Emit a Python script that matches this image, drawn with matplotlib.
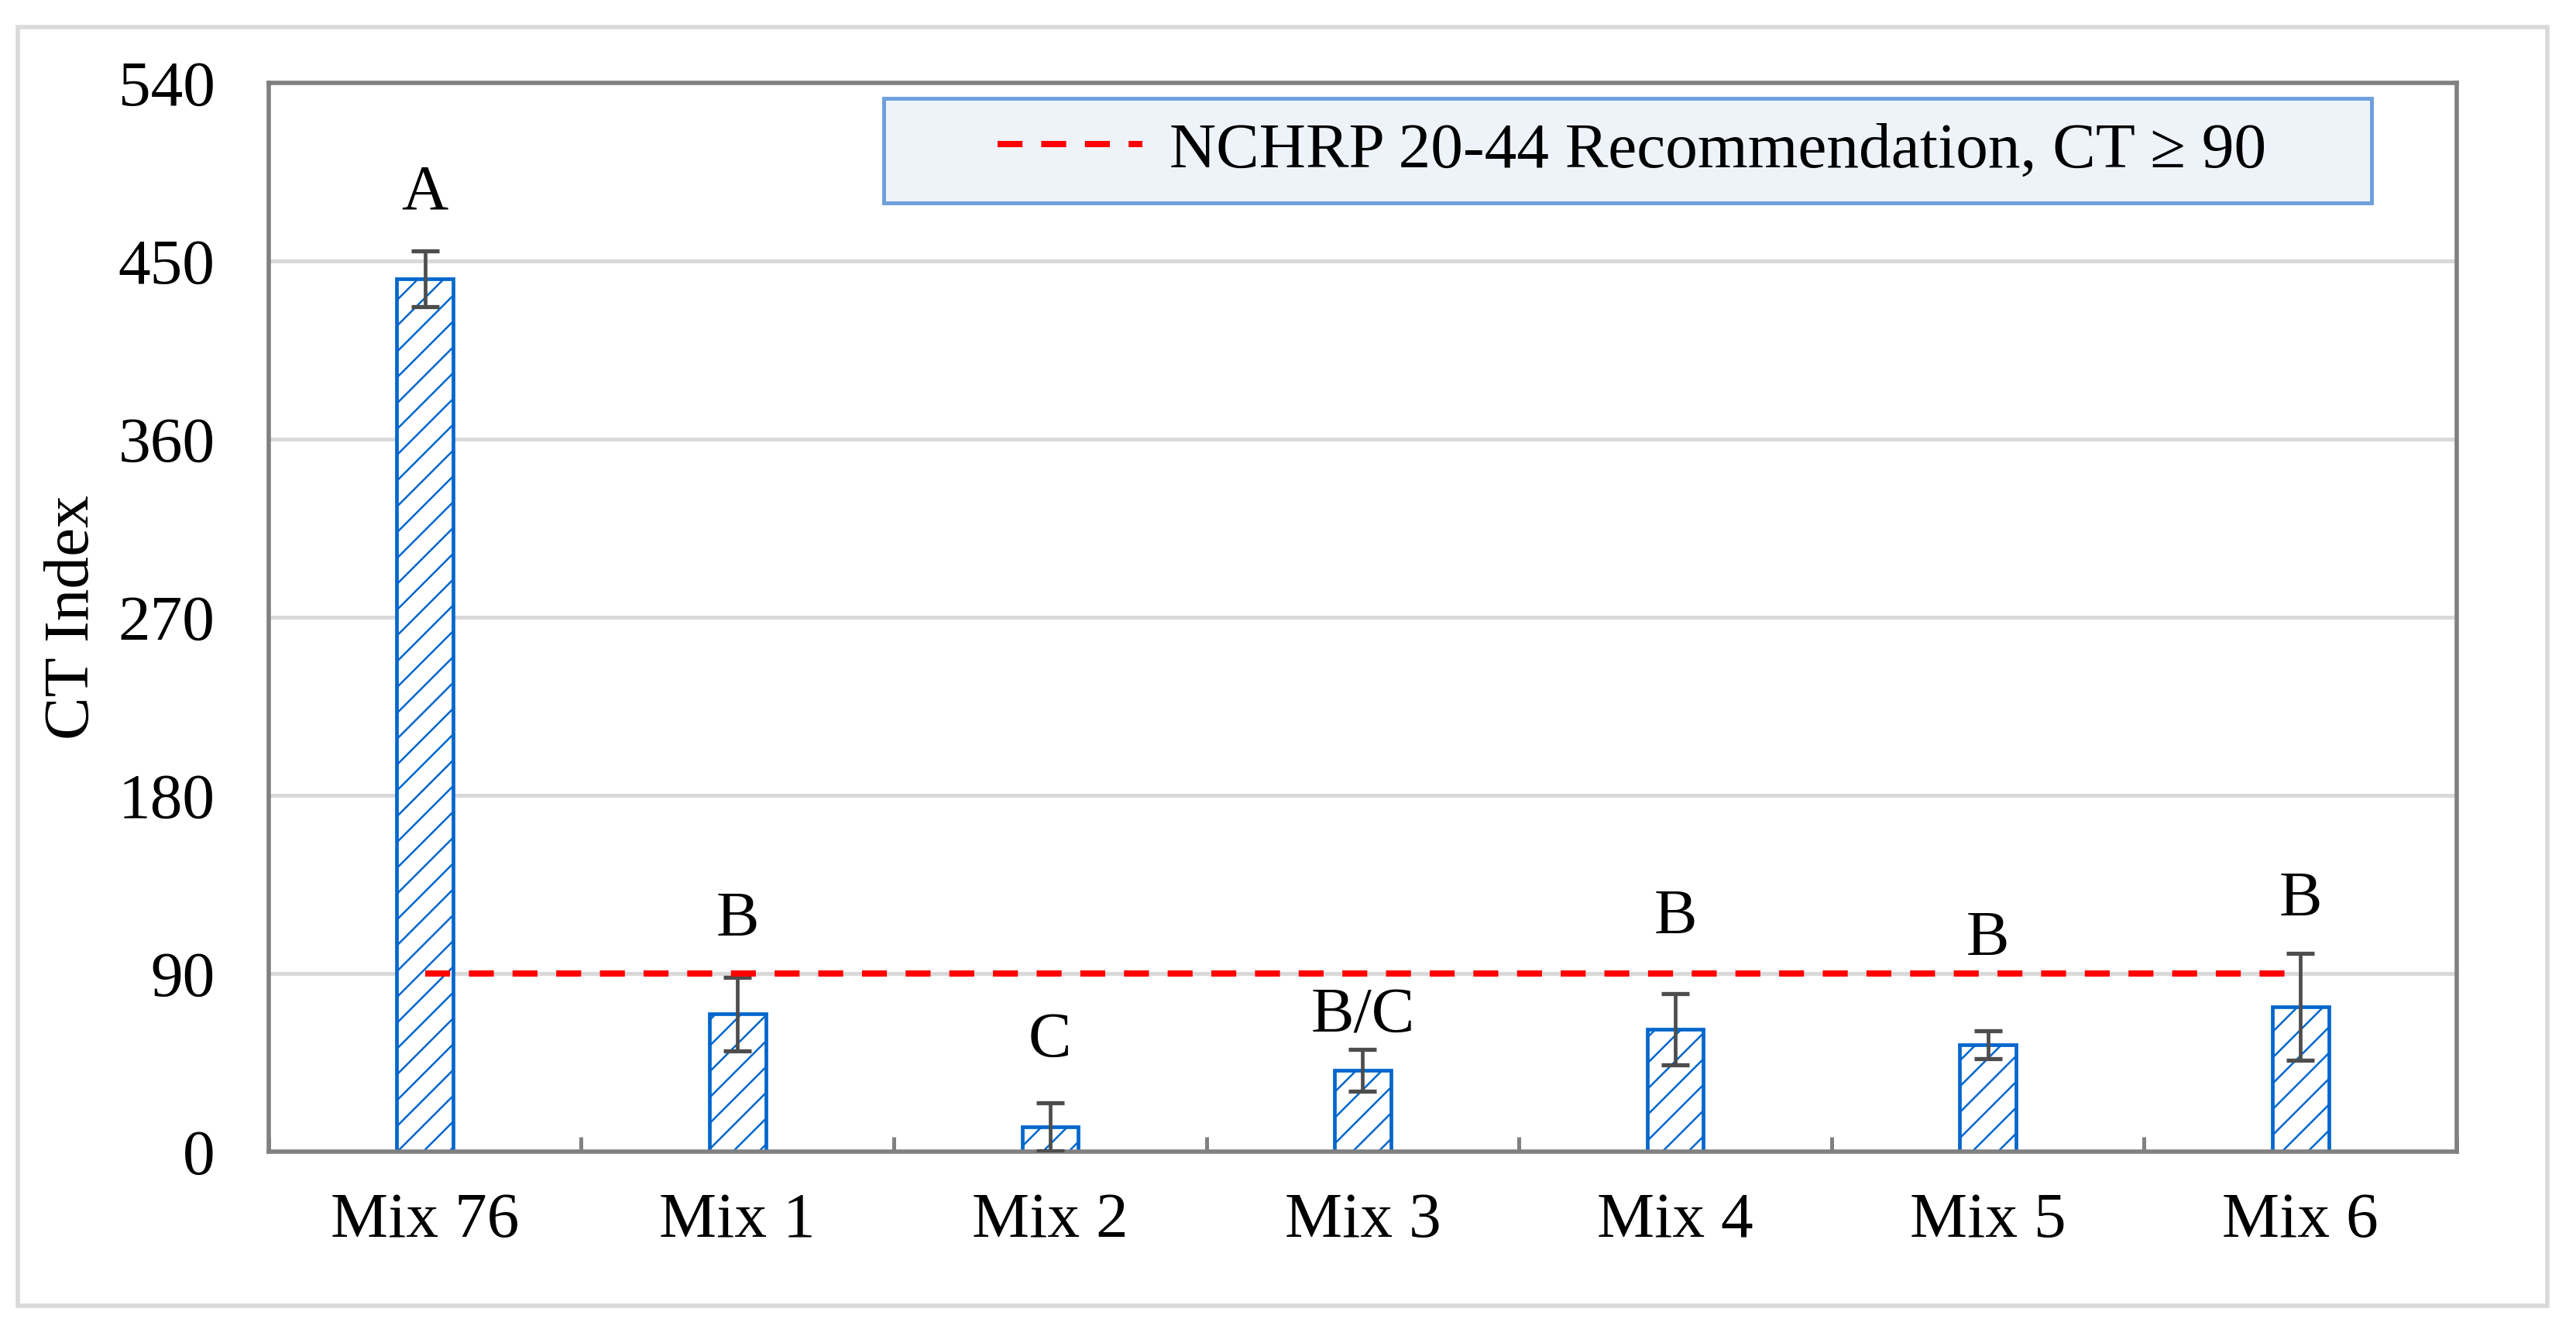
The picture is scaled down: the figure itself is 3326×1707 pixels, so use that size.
import numpy as np
import matplotlib
matplotlib.use('Agg')
import matplotlib.pyplot as plt
from matplotlib.patches import Rectangle

# fonte parecida com Times New Roman
plt.rcParams['font.family'] = ['Liberation Serif', 'DejaVu Serif']
plt.rcParams['hatch.linewidth'] = 0.9

# dados
mixes = ['Mix 76', 'Mix 1', 'Mix 2', 'Mix 3', 'Mix 4', 'Mix 5', 'Mix 6']
ct_index = [441, 69.5, 12.5, 41, 62, 54, 73]
ct_std = [14, 18.5, 12, 10.5, 18, 7, 27]
groups = ['A', 'B', 'C', 'B/C', 'B', 'B', 'B']
group_y = [484, 117, 56, 68, 118, 107, 127]
threshold = 90
threshold_label = 'NCHRP 20-44 Recommendation, CT \u2265 90'
yticks = [0, 90, 180, 270, 360, 450, 540]

fig = plt.figure(figsize=(16.63, 8.535), dpi=200)
ax = fig.add_axes([0.1043, 0.1289, 0.8494, 0.8084])

x = np.arange(len(mixes))
ax.bar(x, ct_index, width=0.18, color='white', edgecolor='#0066CC',
       linewidth=1.7, hatch='//', zorder=2)
ax.errorbar(x, ct_index, yerr=ct_std, fmt='none', ecolor='#4D4D4D',
            elinewidth=1.7, capsize=6.6, capthick=1.9, zorder=3)
ax.hlines(threshold, x[0], x[-1], colors='#FF0000', linewidth=2.9,
          linestyles=(0, (4, 3)), zorder=4, label=threshold_label)

# letras dos grupos estatisticos
for i, (g, gy) in enumerate(zip(groups, group_y)):
    ax.text(i, gy, g, ha='center', va='center', fontsize=30)

ax.set_xlim(-0.5, len(mixes) - 0.5)
ax.set_ylim(yticks[0], yticks[-1])
ax.set_yticks(yticks)
ax.set_xticks(x)
ax.set_xticklabels(mixes)
ax.set_xticks(np.arange(-0.5, len(mixes)), minor=True)
ax.tick_params(axis='x', which='major', length=0, pad=19, labelsize=30)
ax.tick_params(axis='x', which='minor', direction='in', length=7,
               width=1.8, color='#808080')
ax.tick_params(axis='y', length=0, pad=25, labelsize=30)
ax.yaxis.grid(True, color='#D9D9D9', linewidth=1.8)
ax.set_axisbelow(True)
for s in ax.spines.values():
    s.set_color('#808080')
    s.set_linewidth(2)

ax.set_ylabel('CT Index', fontsize=30)
ax.yaxis.set_label_coords(-0.076, 0.5)

# caixa da legenda
ax.add_patch(Rectangle((0.281, 0.888), 0.680, 0.0975, transform=ax.transAxes,
                       facecolor='#EEF3FA', edgecolor='#6FA0DC',
                       linewidth=1.8, zorder=5))
leg = ax.legend(loc='center left', bbox_to_anchor=(0.3331, 0.9362),
                frameon=False, borderpad=0, borderaxespad=0,
                handlelength=2.24, handletextpad=0.43, fontsize=30)
leg.set_zorder(6)

# borda externa da figura
fig.add_artist(Rectangle((0.0069, 0.0123), 0.982, 0.9672,
                         transform=fig.transFigure, fill=False,
                         edgecolor='#D9D9D9', linewidth=2))

fig.savefig('out.png', dpi=200)
